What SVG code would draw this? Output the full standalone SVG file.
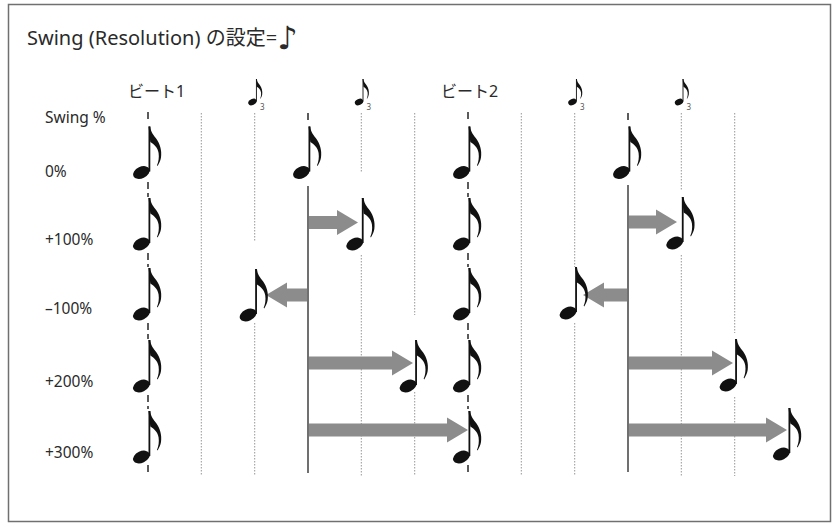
<svg xmlns="http://www.w3.org/2000/svg" xmlns:xlink="http://www.w3.org/1999/xlink" width="840" height="526" viewBox="0 0 840 526">
<style>
text{font-family:"Noto Sans","Noto Sans CJK JP",sans-serif;fill:#2a2a2a}
.lbl{font-size:15.5px}
.hdr{font-size:16px}
.tri{font-size:8px;fill:#555}
.dot{stroke:#a0a0a0;stroke-width:1.1;stroke-dasharray:1.5 1.5;fill:none}
.dash{stroke:#333;stroke-width:1.6;stroke-dasharray:7 4;fill:none}
.solid{stroke:#707070;stroke-width:2;fill:none}
.arr{fill:#8c8c8c}
.nt{fill:#111}
</style>
<defs>
<g id="n" class="nt">
<ellipse cx="-6.6" cy="0" rx="8.8" ry="5.8" transform="rotate(-25 -6.6 0)"/>
<rect x="0.5" y="-46" width="1.8" height="45"/>
<path d="M0.5,-46 L2.3,-46 C2.8,-40 5.5,-37.5 8.5,-33.5 C12,-28.5 14,-22 13,-15 C12.5,-12 11.3,-9.3 9.6,-6.6 L9,-7.2 C10.6,-11 11.2,-15 10.6,-19.5 C9.6,-25 6.5,-28 2.3,-30.5 Z"/>
</g>
</defs>
<rect width="840" height="526" fill="#fff"/>
<rect id="frame" x="8.5" y="4.5" width="822" height="517" fill="#fff" stroke="#707070" stroke-width="1.5"/>
<g id="title">
<text x="27" y="45" style="font-size:20px">Swing (Resolution) の設定=<tspan dy="4" style="font-family:'DejaVu Sans',sans-serif;font-size:32px">♪</tspan></text>
</g>
<g id="header">
<text class="hdr" x="128" y="97">ビート1</text>
<text class="hdr" x="441" y="97">ビート2</text>
<use xlink:href="#n" transform="translate(255.7,102) scale(0.5)"/>
<text class="tri" x="260" y="110">3</text>
<use xlink:href="#n" transform="translate(362.3,102) scale(0.5)"/>
<text class="tri" x="366.6" y="110">3</text>
<use xlink:href="#n" transform="translate(575.7,102) scale(0.5)"/>
<text class="tri" x="580" y="110">3</text>
<use xlink:href="#n" transform="translate(682.3,102) scale(0.5)"/>
<text class="tri" x="686.6" y="110">3</text>
</g>
<g id="row-labels">
<text class="lbl" x="45" y="123">Swing %</text>
<text class="lbl" x="45" y="177">0%</text>
<text class="lbl" x="45" y="245">+100%</text>
<text class="lbl" x="45" y="314">–100%</text>
<text class="lbl" x="45" y="387">+200%</text>
<text class="lbl" x="45" y="458">+300%</text>
</g>
<g id="connectors">
<g id="grid">
<path class="dash" d="M148,112V123 M148,182V197 M148,253V267 M148,323V339 M148,395V409 M148,465V475"/>
<path class="dash" d="M468,112V123 M468,182V197 M468,253V267 M468,323V339 M468,395V409 M468,465V475"/>
<path class="dash" d="M308,113V123 M628,113V123"/>
<path class="solid" d="M308,186V473 M628,185V472"/>
<path class="dot" d="M201.33,113V476 M521.33,113V476"/>
<path class="dot" d="M254.67,113V242 M254.67,323V476"/>
<path class="dot" d="M361.33,113V173 M361.33,255V476"/>
<path class="dot" d="M414.67,113V315 M414.67,392V476"/>
<path class="dot" d="M574.67,113V267 M574.67,323V476"/>
<path class="dot" d="M681.33,113V190 M681.33,255V476"/>
<path class="dot" d="M734.67,113V333 M734.67,397V476"/>
</g>
<g id="arrows" class="arr">
<path id="a-b1-p100" d="M309,216 H337 V210 L358,222.5 L337,235 V229 H309 Z"/>
<path id="a-b2-p100" d="M629,215.5 H656 V209.5 L677,222 L656,234.5 V228.5 H629 Z"/>
<path id="a-b1-m100" d="M307,288.5 H287 V282.5 L266,295 L287,307.5 V301.5 H307 Z"/>
<path id="a-b2-m100" d="M627,288.5 H604 V282.5 L583,295 L604,307.5 V301.5 H627 Z"/>
<path id="a-b1-p200" d="M309,356.5 H392 V350.5 L413,363 L392,375.5 V369.5 H309 Z"/>
<path id="a-b2-p200" d="M629,356.5 H712 V350.5 L733,363 L712,375.5 V369.5 H629 Z"/>
<path id="a-b1-p300" d="M309,423.5 H447 V417.5 L468,430 L447,442.5 V436.5 H309 Z"/>
<path id="a-b2-p300" d="M629,423.5 H766 V417.5 L787,430 L766,442.5 V436.5 H629 Z"/>
</g>
</g>
<g id="note-r0-1"><use xlink:href="#n" x="148" y="172.5"/></g>
<g id="note-r0-2"><use xlink:href="#n" x="308" y="172.5"/></g>
<g id="note-r0-3"><use xlink:href="#n" x="468" y="172.5"/></g>
<g id="note-r0-4"><use xlink:href="#n" x="628" y="172.5"/></g>
<g id="note-r1-1"><use xlink:href="#n" x="148" y="244"/></g>
<g id="note-r1-2"><use xlink:href="#n" x="361.33" y="244"/></g>
<g id="note-r1-3"><use xlink:href="#n" x="468" y="244"/></g>
<g id="note-r1-4"><use xlink:href="#n" x="681.33" y="243"/></g>
<g id="note-r2-1"><use xlink:href="#n" x="148" y="314"/></g>
<g id="note-r2-2"><use xlink:href="#n" x="254.67" y="315"/></g>
<g id="note-r2-3"><use xlink:href="#n" x="468" y="314"/></g>
<g id="note-r2-4"><use xlink:href="#n" x="574.67" y="313"/></g>
<g id="note-r3-1"><use xlink:href="#n" x="148" y="386"/></g>
<g id="note-r3-2"><use xlink:href="#n" x="414.67" y="386"/></g>
<g id="note-r3-3"><use xlink:href="#n" x="468" y="386"/></g>
<g id="note-r3-4"><use xlink:href="#n" x="734.67" y="385"/></g>
<g id="note-r4-1"><use xlink:href="#n" x="148" y="457"/></g>
<g id="note-r4-2"><use xlink:href="#n" x="468" y="457"/></g>
<g id="note-r4-3"><use xlink:href="#n" x="788" y="454"/></g>
</svg>
